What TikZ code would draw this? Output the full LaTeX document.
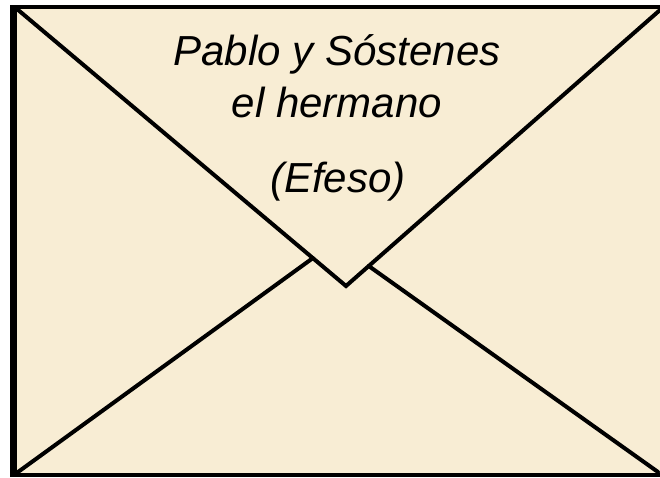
\documentclass[tikz,border=0pt]{standalone}
\usepackage{fontspec}
\setmainfont{Liberation Sans}
\definecolor{paper}{RGB}{248,237,212}
\begin{document}
\begin{tikzpicture}[x=1pt,y=-1pt,
  fold/.style={line width=4pt,line join=miter,line cap=round,black},
  label/.style={anchor=base,inner sep=0pt,font=\fontsize{42}{50}\selectfont\itshape}]
\useasboundingbox (0,0) rectangle (660,477);
\fill[white] (0,0) rectangle (660,477);
\fill[paper] (10,5) rectangle (660,477);
% border bars
\fill[black] (10,5) rectangle (17,477);
\fill[black] (10,5) rectangle (660,9);
\fill[black] (10,473) rectangle (660,477);
% corners and centre
\coordinate (tl) at (17,9);
\coordinate (tr) at (660,10);
\coordinate (bl) at (18,472);
\coordinate (br) at (658,472);
\coordinate (v) at (346,286);
\coordinate (c) at (335,242);
\coordinate (xl) at (intersection of tl--v and bl--c);
\coordinate (xr) at (intersection of tr--v and br--c);
% lower folds
\draw[fold] (bl) -- (xl);
\draw[fold] (br) -- (xr);
% flap
\draw[fold] (tl) -- (v) -- (tr);
% texts
\node[label] (t1) at (337,65) {Pablo y Sóstenes};
\node[label] (t2) at (337,117) {el hermano};
\node[label] (t3) at (338,192) {(Efeso)};
\end{tikzpicture}
\end{document}
